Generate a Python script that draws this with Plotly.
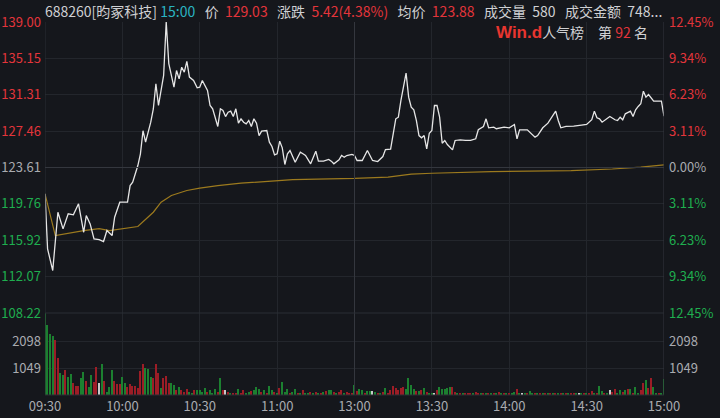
import plotly.graph_objects as go

PREV_CLOSE = 123.61

# ---- price line (minute index from 09:30, value) ----
price_min = [0, 1, 3, 5, 7, 9, 11, 13, 15, 16, 17.5, 19, 21, 22.7, 24, 26, 27, 29, 32, 33, 34, 36, 37, 38, 39,
             41, 42, 43, 44, 46, 47, 48, 50, 51, 52, 53, 54, 55, 56, 57.6, 59, 60, 61, 63, 64, 65, 67, 68, 69,
             70, 71, 72, 73, 74, 75, 76, 77, 78, 79, 80, 81, 82, 83, 84, 86, 87, 88, 89, 90, 91, 92, 93, 94,
             95, 97, 98, 99, 100, 101, 103, 104, 105, 106, 108, 110, 111, 112, 114, 115, 116, 117, 119, 120,
             121, 123, 125, 127, 129, 131, 132, 134, 135, 136, 137, 138, 140, 141, 142, 143, 144, 145, 146,
             147, 148, 149, 150, 151, 152, 153, 154, 155, 156, 158, 159, 161, 163, 165, 167, 168, 170, 171,
             172, 174, 175, 178, 180, 182, 183, 184, 187, 190, 191, 193, 195, 196, 198, 199, 200, 202, 205,
             208, 210, 212, 213, 214, 215, 216, 218, 219, 221, 222, 223, 224, 225, 227, 228, 229, 230, 231,
             232, 233, 234, 236, 238, 239, 240]
price_val = [120.83, 115.0, 112.71, 118.88, 117.12, 118.71, 118.6, 119.77, 116.76, 118.53, 117.65, 116.06,
             115.99, 115.78, 116.94, 116.41, 118.35, 119.94, 119.94, 121.7, 122.05, 123.82, 125.06, 127.5,
             126.29, 128.4, 129.8, 132.47, 130.17, 133.35, 138.99, 134.6, 132.11, 133.87, 132.99, 134.22,
             133.7, 134.83, 133.17, 132.82, 132.04, 132.11, 132.82, 131.76, 130.17, 129.82, 127.95, 129.82,
             129.64, 129.0, 129.46, 129.57, 129.0, 129.82, 128.3, 128.76, 128.4, 128.23, 128.58, 127.95,
             128.76, 128.3, 126.99, 127.45, 127.52, 126.29, 125.83, 124.95, 125.06, 126.39, 125.69, 123.93,
             125.06, 125.41, 124.17, 124.7, 125.23, 125.06, 124.88, 124.0, 124.64, 125.34, 124.28, 124.28,
             124.46, 124.28, 124.0, 124.42, 124.88, 124.7, 124.88, 124.99, 124.88, 124.35, 124.35, 125.41,
             124.35, 124.24, 124.77, 125.51, 125.55, 127.17, 128.76, 128.93, 130.7, 133.59, 131.05, 129.99,
             129.72, 128.58, 126.99, 126.75, 126.99, 125.59, 127.24, 127.52, 130.17, 130.17, 128.93, 126.18,
             126.47, 126.04, 125.48, 126.47, 126.54, 126.47, 126.47, 126.65, 127.6, 127.95, 128.76, 127.81,
             127.88, 127.71, 127.88, 127.81, 128.16, 126.65, 127.6, 127.6, 126.82, 126.99, 127.81, 128.3,
             128.76, 129.57, 128.58, 127.81, 127.95, 127.98, 128.09, 128.16, 128.66, 129.57, 128.87, 128.76,
             128.4, 128.76, 129.0, 128.66, 128.58, 128.93, 128.66, 129.29, 129.57, 129.0, 129.72, 130.07,
             130.35, 131.68, 131.05, 131.33, 130.63, 130.63, 130.63, 129.03]

# ---- average price line ----
avg_min = [0, 4, 15, 21, 25, 36, 42, 45, 49, 55, 60, 67, 76, 96, 120, 133, 142, 150, 173, 204, 220, 231, 240]
avg_val = [120.83, 116.41, 116.94, 117.15, 116.94, 117.37, 118.88, 119.94, 120.65, 121.18, 121.42, 121.7,
           121.95, 122.33, 122.45, 122.6, 122.9, 123.0, 123.18, 123.29, 123.45, 123.64, 123.88]

# ---- volume per minute (241 bars), direction: 1 up(red), -1 down(green), 0 flat(white) ----
vol_am1 = [3240, 2720, 2370, 2300, 2140, 1430, 870, 765, 970, 710, 815, 480, 350, 350, 650, 910, 560, 325,
           780, 520, 1100, 455, 1205, 545, 130, 300, 970, 545, 430, 430, 690, 480, 300, 430, 350, 350, 260,
           945, 1205, 1040, 1000, 710, 650, 1205, 840, 260, 650, 740, 480, 480, 390, 195, 300, 195, 130, 220,
           130, 65, 195, 195, 195, 130, 260, 130, 195, 65, 220, 130, 650, 195, 195, 130]
dir_am1 = [-1, -1, -1, -1, 1, 1, -1, -1, 1, -1, -1, 1, 1, 1, -1, -1, 1, -1, -1, 1, 1, 0, -1, 1, -1, -1, -1,
           1, 1, 1, -1, -1, 1, 1, 1, 1, 1, 1, 1, -1, -1, -1, 1, 1, 1, -1, 1, 1, 1, -1, -1, 1, -1, 1, 1, 1,
           -1, -1, 1, -1, -1, -1, -1, 1, -1, -1, -1, 1, -1, 1, 0, 1]
vol_am2 = [65, 90, 90, 230, 90, 195, 90, 130, 155, 195, 325, 220, 130, 195, 90, 350, 195, 130, 90, 260, 520,
           130, 220, 90, 130, 220, 90, 65, 195, 90, 90, 130, 65, 130, 90, 65, 130, 170, 195, 195, 130, 90,
           130, 195, 90, 130, 65, 65]
dir_am2 = [-1, 1, 1, -1, 1, 1, -1, -1, 1, -1, -1, -1, 1, -1, 1, -1, -1, 1, -1, 1, -1, -1, -1, 1, -1, -1, 1,
           -1, 1, -1, -1, 1, -1, 1, -1, 1, -1, 1, -1, -1, 1, -1, 1, 1, -1, 1, 1, 1]
vol_pm = [390, 170, 230, 195, 90, 155, 145, 170, 130, 90, 65, 130, 270, 90, 195, 365, 260, 195, 260, 325, 220,
          660, 375, 220, 170, 145, 195, 270, 130, 90, 65, 90, 195, 300, 245, 245, 270, 300, 325, 130, 90, 65,
          65, 65, 50, 80, 65, 105, 65, 50, 50, 80, 50, 65, 40, 50, 105, 50, 40, 50, 40, 65, 130, 220, 50, 80,
          50, 80, 145, 50, 40, 40, 50, 40, 40, 40, 40, 50, 40, 40, 50, 40, 50, 40, 40, 80, 40, 65, 40, 65, 80,
          65, 145, 90, 80, 350, 170, 90, 65, 195, 130, 245, 65, 195, 130, 195, 245, 230, 65, 325, 90, 195, 455,
          585, 260, 650, 325, 65, 50, 65, 610]
dir_pm = [-1, 1, -1, -1, 1, -1, -1, 0, -1, 1, -1, 1, -1, 1, 1, 1, 1, 1, 1, 1, -1, -1, -1, -1, 1, -1, 1, -1, 1,
          -1, -1, 0, 1, -1, -1, -1, -1, -1, 1, 1, -1, 1, -1, 1, 1, 1, -1, 1, 1, -1, 1, -1, 1, -1, 1, -1, 1, -1,
          1, -1, 1, -1, -1, 1, -1, 0, -1, 1, -1, -1, 1, -1, 1, -1, 1, -1, 1, -1, 1, -1, 1, -1, 1, -1, 1, 1, -1,
          0, -1, 1, -1, 1, 1, -1, 1, -1, -1, 1, -1, 0, 1, 1, -1, -1, 1, -1, 1, -1, 1, -1, -1, 1, 1, -1, 1, 1,
          -1, -1, 1, -1, -1]

volumes = vol_am1 + vol_am2 + vol_pm
directions = dir_am1 + dir_am2 + dir_pm
minutes = list(range(len(volumes)))

price_ticks = [108.22, 112.07, 115.92, 119.76, 123.61, 127.46, 131.31, 135.15, 139.00]
pct_ticks = [-12.45, -9.34, -6.23, -3.11, 0.0, 3.11, 6.23, 9.34, 12.45]
vol_ticks = [1049, 2098]
time_ticks = [0, 30, 60, 90, 120, 150, 180, 210, 240]
time_labels = ["09:30", "10:00", "10:30", "11:00", "13:00", "13:30", "14:00", "14:30", "15:00"]

BG = "#15171c"
GRID = "#23262c"
RED = "#e3353b"
GREEN = "#1fae4f"
GRAY = "#a9abb0"
FONT = "Noto Sans CJK SC"


def col_for(v, ref):
    if abs(v - ref) < 1e-9:
        return GRAY
    return RED if v > ref else GREEN


price_text = ["<span style='color:%s'>%.2f</span>" % (col_for(v, PREV_CLOSE), v) for v in price_ticks]
pct_text = ["<span style='color:%s'>%.2f%%</span>" % (col_for(v, 0), abs(v)) for v in pct_ticks]
bar_colors = ["#9c1d26" if d > 0 else ("#1c8030" if d < 0 else "#c8c8c8") for d in directions]

fig = go.Figure()
fig.add_trace(go.Bar(x=minutes, y=volumes, marker=dict(color=bar_colors, line=dict(width=0)),
                     width=0.55, xaxis="x", yaxis="y3", hoverinfo="skip"))
fig.add_trace(go.Scatter(x=avg_min, y=avg_val, mode="lines", line=dict(color="#9c7a1e", width=1.2),
                         xaxis="x", yaxis="y", hoverinfo="skip"))
fig.add_trace(go.Scatter(x=price_min, y=price_val, mode="lines", line=dict(color="#e6e6e6", width=1.3),
                         xaxis="x", yaxis="y", hoverinfo="skip"))
fig.add_trace(go.Scatter(x=price_min, y=[(v - PREV_CLOSE) / PREV_CLOSE * 100 for v in price_val],
                         mode="lines", line=dict(color="rgba(0,0,0,0)", width=0),
                         xaxis="x", yaxis="y2", hoverinfo="skip"))
fig.add_trace(go.Scatter(x=minutes, y=volumes, mode="lines", line=dict(color="rgba(0,0,0,0)", width=0),
                         xaxis="x", yaxis="y4", hoverinfo="skip"))

split = 0.2198
axis_font = dict(family=FONT, size=13, color=GRAY)
fig.update_layout(
    width=720, height=418, showlegend=False, bargap=0, barmode="overlay",
    paper_bgcolor=BG, plot_bgcolor=BG,
    margin=dict(l=45, r=56, t=22, b=23),
    font=dict(family=FONT, color=GRAY),
    xaxis=dict(range=[0, 240], tickvals=time_ticks, ticktext=time_labels, anchor="y3",
               showgrid=True, gridcolor=GRID, gridwidth=1, zeroline=False, showline=False,
               tickfont=axis_font, ticks="", ticklabelstandoff=2, automargin=False),
    yaxis=dict(domain=[split, 1], range=[108.2199, 139.0001], tickvals=price_ticks, ticktext=price_text,
               showgrid=True, gridcolor=GRID, zeroline=False, tickfont=axis_font, ticks="",
               ticklabelstandoff=3, automargin=False),
    yaxis2=dict(overlaying="y", side="right", range=[-12.4501, 12.4501], tickvals=pct_ticks,
                ticktext=pct_text, showgrid=False, zeroline=False, tickfont=axis_font, ticks="",
                ticklabelstandoff=4, automargin=False),
    yaxis3=dict(domain=[0, split], range=[0, 3186], tickvals=vol_ticks, ticktext=[str(v) for v in vol_ticks],
                showgrid=True, gridcolor=GRID, zeroline=False, tickfont=axis_font, ticks="",
                ticklabelstandoff=3, automargin=False),
    yaxis4=dict(overlaying="y3", side="right", range=[0, 3186], tickvals=vol_ticks,
                ticktext=[str(v) for v in vol_ticks], showgrid=False, zeroline=False, tickfont=axis_font,
                ticks="", ticklabelstandoff=4, automargin=False),
)

# borders and emphasised lines
fig.add_shape(type="line", xref="x", yref="paper", x0=0, x1=0, y0=0, y1=1, line=dict(color="#2b2e35", width=1))
fig.add_shape(type="line", xref="x", yref="paper", x0=240, x1=240, y0=0, y1=1, line=dict(color="#34373e", width=1))
fig.add_shape(type="line", xref="x", yref="paper", x0=120, x1=120, y0=0, y1=1, line=dict(color="#34373e", width=1))
fig.add_shape(type="line", xref="paper", yref="y", x0=0, x1=1, y0=PREV_CLOSE, y1=PREV_CLOSE,
              line=dict(color="#34373e", width=1))
fig.add_shape(type="line", xref="paper", yref="paper", x0=0, x1=1, y0=0, y1=0, line=dict(color="#2b2e35", width=1))
fig.add_shape(type="line", xref="paper", yref="paper", x0=0, x1=1, y0=split, y1=split,
              line=dict(color="#2b2e35", width=1))

LIGHT = "#cfd0d3"
SP = "\u00a0\u00a0\u00a0"
header = ("<span style='color:%s'>688260[昀冢科技]</span> <span style='color:#2ab4c2'>15:00</span>" + SP +
          "<span style='color:%s'>价</span>\u00a0 <span style='color:%s'>129.03</span>" + SP +
          "<span style='color:%s'>涨跌</span>\u00a0 <span style='color:%s'>5.42(4.38%%)</span>" + SP +
          "<span style='color:%s'>均价</span>\u00a0 <span style='color:%s'>123.88</span>" + SP +
          "<span style='color:%s'>成交量</span>\u00a0 <span style='color:%s'>580</span>" + SP +
          "<span style='color:%s'>成交金额</span>\u00a0 <span style='color:%s'>748...</span>") % (
    LIGHT, LIGHT, RED, LIGHT, RED, LIGHT, RED, LIGHT, LIGHT, LIGHT, LIGHT)
fig.add_annotation(text=header, xref="paper", yref="paper", x=0, y=1, xanchor="left", yanchor="middle",
                   xshift=-2, yshift=11, showarrow=False, font=dict(family=FONT, size=14, color=LIGHT))

rank = ("<span style='color:#e8352f;font-family:Liberation Sans;font-size:17px'><b>Win.d</b></span>"
        "<span style='color:%s'>人气榜" + "\u3000" + "第 </span><span style='color:%s'>92</span>"
        "<span style='color:%s'> 名</span>") % (LIGHT, RED, LIGHT)
fig.add_annotation(text=rank, xref="paper", yref="paper", x=(650 - 45) / 619, y=1, xanchor="right",
                   yanchor="middle", yshift=-10, showarrow=False, font=dict(family=FONT, size=14, color=LIGHT))

fig.write_html("out.html", config={"displayModeBar": False},
               post_script="document.body.style.margin='0';document.body.style.overflow='hidden';")
